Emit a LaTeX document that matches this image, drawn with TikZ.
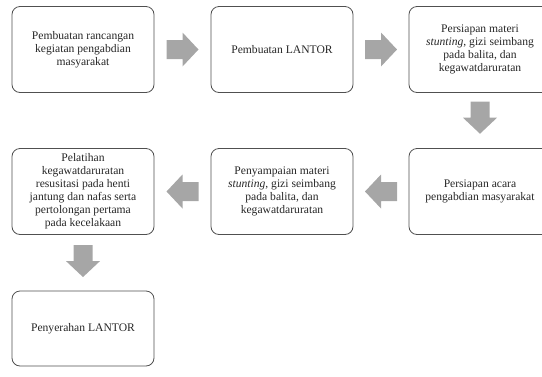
\documentclass[tikz,border=0pt]{standalone}
\usepackage{fontspec}
\setmainfont{Liberation Serif}
\usetikzlibrary{calc}
\definecolor{abu}{RGB}{166,166,166}
\definecolor{garis}{RGB}{80,80,80}
\tikzset{
  panah/.pic={\fill[abu] (-16,-9.5) -- (0,-9.5) -- (0,-17) -- (16,0) -- (0,17) -- (0,9.5) -- (-16,9.5) -- cycle;}
}
\begin{document}
\begin{tikzpicture}[x=1pt, y=-1pt,
    kotak/.style={draw=garis, line width=0.8pt, rounded corners=8pt, minimum width=142pt, minimum height=86pt,
      align=center, inner sep=2pt, text=black!85, font=\fontsize{11.6}{13}\selectfont}]
    \useasboundingbox (0,0) rectangle (542,376);

    \node[kotak] (rancang)   at (83,49.5)  {Pembuatan rancangan\\kegiatan pengabdian\\masyarakat};
    \node[kotak] (lantor)    at (282,49.5) {Pembuatan LANTOR};
    \node[kotak] (materi)    at (480,49.5) {Persiapan materi\\\textit{stunting}, gizi seimbang\\pada balita, dan\\kegawatdaruratan};
    \node[kotak] (acara)     at (480,191.5) {Persiapan acara\\pengabdian masyarakat};
    \node[kotak] (sampai)    at (282,191.5) {Penyampaian materi\\\textit{stunting}, gizi seimbang\\pada balita, dan\\kegawatdaruratan};
    \node[kotak] (pelatihan) at (83,191.5) {Pelatihan\\kegawatdaruratan\\resusitasi pada henti\\jantung dan nafas serta\\pertolongan pertama\\pada kecelakaan};
    \node[kotak, minimum height=75pt] (serah) at (83,328.5) {Penyerahan LANTOR};

    \pic at ($(rancang.east)!0.5!(lantor.west)$) {panah};
    \pic at ($(lantor.east)!0.5!(materi.west)$) {panah};
    \pic[rotate=-90] at ($(materi.south)!0.45!(acara.north)$) {panah};
    \pic[rotate=180] at ($(acara.west)!0.5!(sampai.east)$) {panah};
    \pic[rotate=180] at ($(sampai.west)!0.5!(pelatihan.east)$) {panah};
    \pic[rotate=-90] at ($(pelatihan.south)!0.47!(serah.north)$) {panah};
\end{tikzpicture}
\end{document}
